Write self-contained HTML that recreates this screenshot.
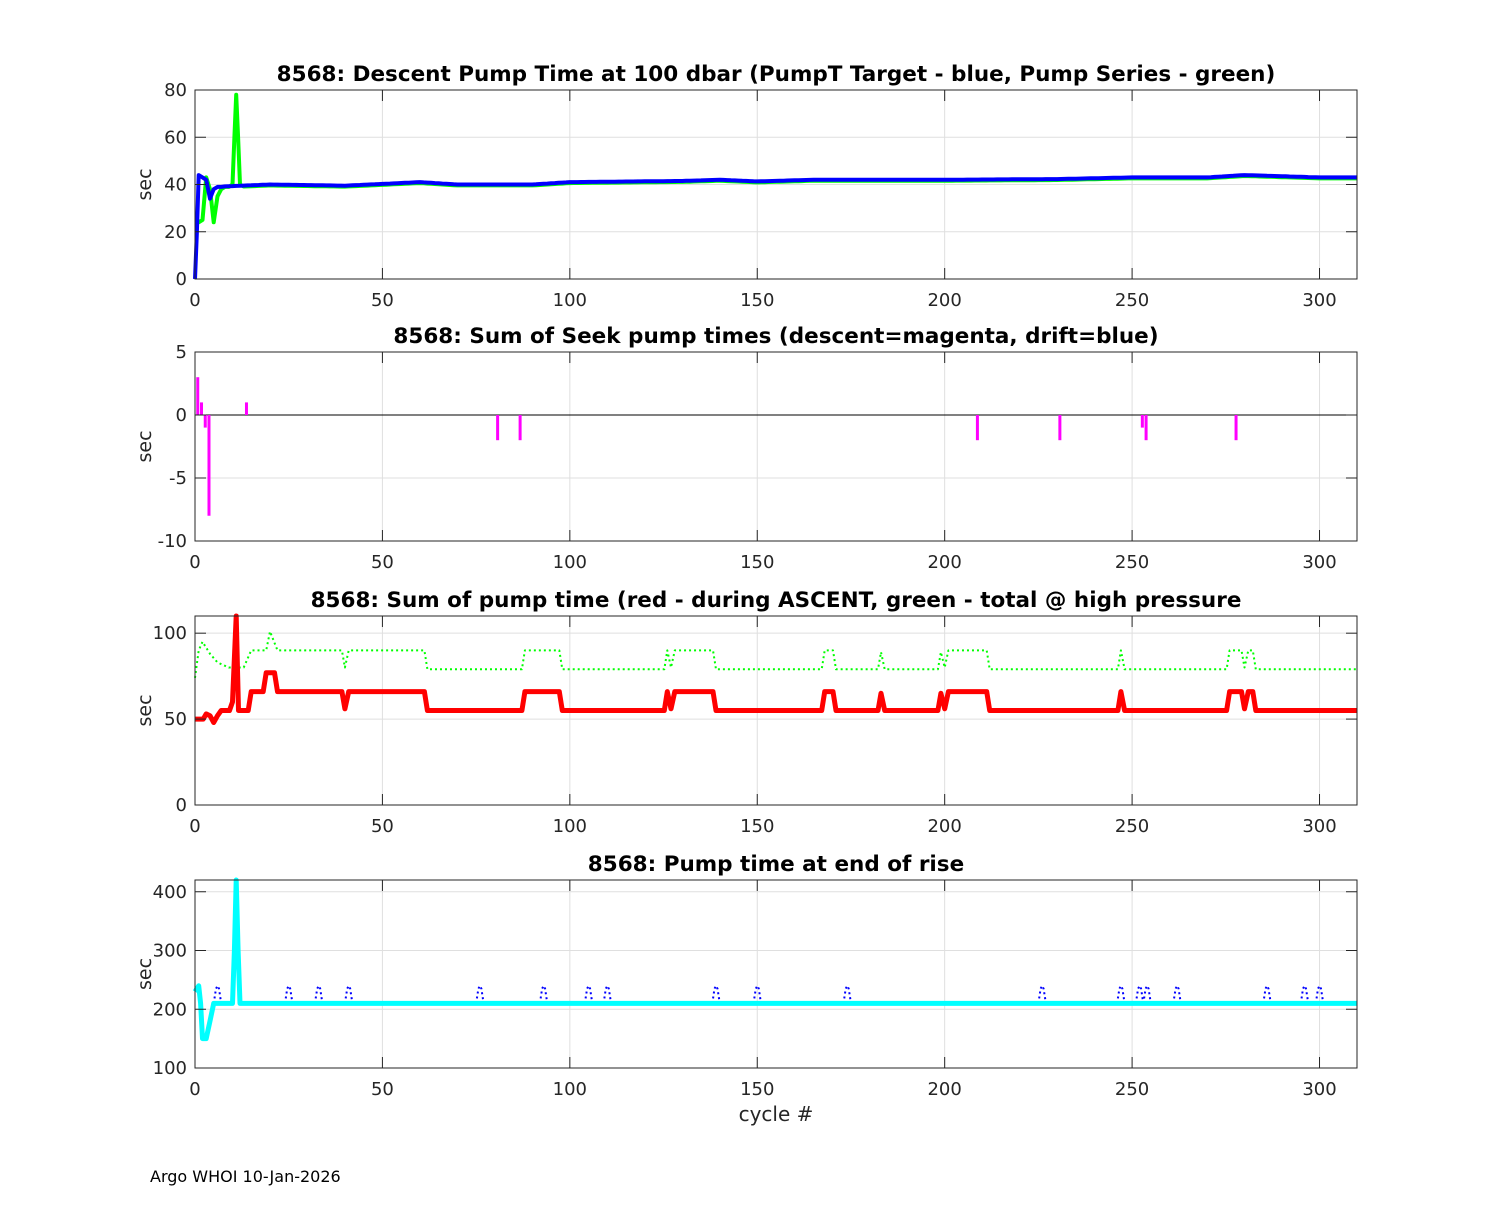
<!DOCTYPE html>
<html><head><meta charset="utf-8"><style>
body{margin:0;background:#fff}
svg text{font-family:"DejaVu Sans","Liberation Sans",sans-serif;fill:#262626}
</style></head><body>
<svg id="s" width="1500" height="1200" xmlns="http://www.w3.org/2000/svg"></svg>
<script>
const S=document.getElementById('s');let h='';
const X0=195,X1=1357,XR=310;
const px=c=>X0+c*(X1-X0)/XR;
function panel(y0,y1,vmin,vmax,ticks){
  const py=v=>y1-(v-vmin)*(y1-y0)/(vmax-vmin);
  h+=`<rect x="${X0}" y="${y0}" width="${X1-X0}" height="${y1-y0}" fill="#fff"/>`;
  for(let c=0;c<=300;c+=50){h+=`<line x1="${px(c)}" x2="${px(c)}" y1="${y0}" y2="${y1}" stroke="#dfdfdf"/>`;}
  ticks.forEach(v=>{h+=`<line x1="${X0}" x2="${X1}" y1="${py(v)}" y2="${py(v)}" stroke="#dfdfdf"/>`;});
  return py;
}
function frame(y0,y1,vmin,vmax,ticks,title,tl){
  const py=v=>y1-(v-vmin)*(y1-y0)/(vmax-vmin);
  h+=`<rect x="${X0}" y="${y0}" width="${X1-X0}" height="${y1-y0}" fill="none" stroke="#262626"/>`;
  for(let c=0;c<=300;c+=50){const x=px(c);
    h+=`<line x1="${x}" x2="${x}" y1="${y1}" y2="${y1-11}" stroke="#262626"/><line x1="${x}" x2="${x}" y1="${y0}" y2="${y0+11}" stroke="#262626"/>`;
    h+=`<text x="${x}" y="${y1+27}" font-size="18" text-anchor="middle">${c}</text>`;}
  ticks.forEach((v,i)=>{const y=py(v);
    h+=`<line x1="${X0}" x2="${X0+11}" y1="${y}" y2="${y}" stroke="#262626"/><line x1="${X1}" x2="${X1-11}" y1="${y}" y2="${y}" stroke="#262626"/>`;
    h+=`<text x="${X0-8}" y="${y+6}" font-size="18" text-anchor="end">${tl[i]}</text>`;});
  h+=`<text x="776" y="${y0-9}" font-size="21.5" font-weight="bold" text-anchor="middle" style="fill:#000">${title}</text>`;
  h+=`<text transform="translate(${X0-44},${(y0+y1)/2}) rotate(-90)" font-size="19" text-anchor="middle">sec</text>`;
}
function line(pts,py,col,w,dash){
  h+=`<polyline fill="none" stroke="${col}" stroke-width="${w}" ${dash?'stroke-dasharray="'+dash+'"':''} stroke-linejoin="round" points="${pts.map(p=>px(p[0]).toFixed(1)+','+py(p[1]).toFixed(1)).join(' ')}"/>`;
}
// Panel 1
let p1=panel(90,279,0,80,[0,20,40,60,80]);
const base=[[5,39],[20,40],[40,39.5],[60,41],[70,40],[90,40],[100,41],[130,41.5],[140,42],[150,41.3],[165,42],[200,42],[230,42.3],[250,43],[270,43],[280,44],[300,43],[310,43]];
function interp(c){for(let i=0;i<base.length-1;i++){if(c>=base[i][0]&&c<=base[i+1][0]){const t=(c-base[i][0])/(base[i+1][0]-base[i][0]);return base[i][1]+t*(base[i+1][1]-base[i][1]);}}return 43;}
let g=[[0,24],[1,24],[2,25],[3,43],[4,38],[5,24],[6,35],[7,38],[8,39],[9,39],[10,40],[10.5,60],[11,78],[11.5,60],[12,40]];
for(let c=13;c<=310;c++)g.push([c,interp(c)-0.4]);
line(g,p1,'#00ff00',4);
let b=[[0,0],[0.5,20],[1,44],[2,43],[3,42],[4,34],[5,38],[6,39],[7,39]];
for(let c=8;c<=310;c++)b.push([c,interp(c)]);
line(b,p1,'#0000ff',4);
frame(90,279,0,80,[0,20,40,60,80],'8568: Descent Pump Time at 100 dbar (PumpT Target - blue, Pump Series - green)',['0','20','40','60','80']);
// Panel 2
let p2=panel(352,541,-10,5,[-10,-5,0,5]);
h+=`<line x1="${X0}" x2="${X1}" y1="${p2(0)}" y2="${p2(0)}" stroke="#000" stroke-width="1"/>`;
[[1,3],[2,1],[3,-1],[4,-8],[14,1],[81,-2],[87,-2],[209,-2],[231,-2],[253,-1],[254,-2],[278,-2]].forEach(([c,v])=>{
  const x=px(c)-1;h+=`<line x1="${x}" x2="${x}" y1="${p2(0)}" y2="${p2(v)}" stroke="#ff00ff" stroke-width="3"/>`;});
frame(352,541,-10,5,[-10,-5,0,5],'8568: Sum of Seek pump times (descent=magenta, drift=blue)',['-10','-5','0','5']);
// Panel 3
let p3=panel(616,805,0,110,[0,50,100]);
let rb=[[0,50],[3,53],[4,52],[5,48],[6,52],[7,55],[10,60],[11,110],[11.6,55],[12,55],[15,66],[19,77],[22,66],[40,56],[41,66],[62,55],[88,66],[98,55],[126,66],[127,56],[128,66],[139,55],[168,66],[171,55],[183,65],[184,55],[199,65],[200,56],[201,66],[212,55],[247,66],[248,55],[276,66],[280,56],[281,66],[283,55],[310,55]];
let r=[];for(let i=0;i<rb.length;i++){r.push(rb[i]);if(i+1<rb.length&&rb[i+1][0]-rb[i][0]>1)r.push([rb[i+1][0]-0.8,rb[i][1]]);}
let gr=[[0,74],[1,90],[2,95],[4,88],[6,83],[9,80],[13,80],[15,90],[19,90],[20,101],[22,90]];
r.forEach(p=>{if(p[0]>22)gr.push([p[0],p[1]+24]);});
line(gr,p3,'#00ff00',2,'2,3');
line(r,p3,'#ff0000',5);
frame(616,805,0,110,[0,50,100],'8568: Sum of pump time (red - during ASCENT, green - total @ high pressure',['0','50','100']);
// Panel 4
let p4=panel(880,1068,100,420,[100,200,300,400]);
[6,25,33,41,76,93,105,110,139,150,174,226,247,252,254,262,286,296,300].forEach(c=>{
  line([[c-1,210],[c-0.4,235],[c,240],[c+0.4,235],[c+1,210]],p4,'#0000ff',2,'2,3');});
line([[0,230],[1,240],[1.5,210],[2,150],[3,150],[4,180],[5,210],[10,210],[10.5,300],[11,420],[11.5,300],[12,210],[310,210]],p4,'#00ffff',5);
frame(880,1068,100,420,[100,200,300,400],'8568: Pump time at end of rise',['100','200','300','400']);
h+=`<text x="776" y="1121" font-size="20" text-anchor="middle">cycle #</text>`;
h+=`<text x="150" y="1182" font-size="16" style="fill:#000">Argo WHOI 10-Jan-2026</text>`;
S.innerHTML=h;
</script>
</body></html>
